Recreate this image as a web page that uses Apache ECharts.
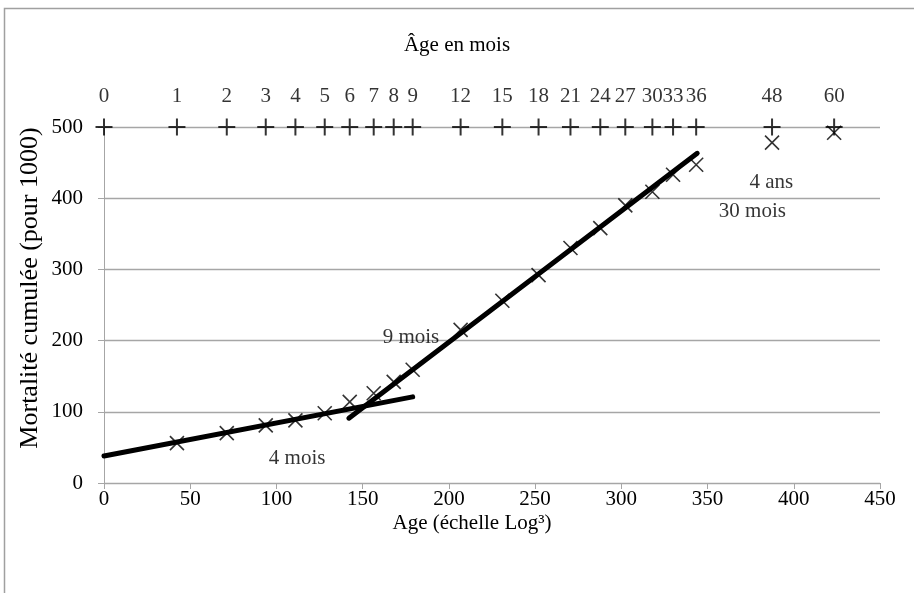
<!DOCTYPE html>
<html>
<head>
<meta charset="utf-8">
<script src="https://cdn.jsdelivr.net/npm/echarts@6/dist/echarts.min.js"></script>
<style>
html, body { margin: 0; padding: 0; background: #fff; }
#chart { width: 914px; height: 593px; }
</style>
</head>
<body>
<div id="chart"></div>
<script>
// --- data ---
// age in months and its position on the log^3 axis
const months = [0, 1, 2, 3, 4, 5, 6, 7, 8, 9, 12, 15, 18, 21, 24, 27, 30, 33, 36, 48, 60];
const monthPos = [0, 42.3, 71.2, 93.8, 111, 128, 142.5, 156.4, 168, 179, 206.8, 231, 252, 270.5, 287.8, 302.3, 318, 330, 343.4, 387.4, 423.4];
const topRow = 500; // the month markers sit on the 500 line

// cumulated mortality (per 1000) for months 1..60
const mortality = [56, 70, 81, 88, 98, 114, 126, 142, 159, 215, 256, 292, 330, 358, 390, 409, 433, 447, 478, 492];

// the two fitted lines
const trendLow = [[0, 38], [179, 121]];
const trendHigh = [[142, 91], [344, 463]];

// text notes in the plot
const notes = [
  ['4 mois', 112, 35],
  ['9 mois', 178, 204],
  ['4 ans', 387, 422],
  ['30 mois', 376, 382]
];

const FONT = 'Liberation Serif';
const GRID_COLOR = '#a6a6a6';
const PLUS = 'path://M0,5L10,5M5,0L5,10';
const CROSS = 'path://M0,0L10,10M10,0L0,10';

const chart = echarts.init(document.getElementById('chart'));

const option = {
  animation: false,
  backgroundColor: '#fff',
  textStyle: { fontFamily: FONT, color: '#000' },
  grid: { left: 104, right: 34, top: 127, bottom: 110 },
  xAxis: {
    type: 'value',
    min: 0, max: 450, interval: 50,
    axisLine: { lineStyle: { color: GRID_COLOR } },
    axisTick: { show: true, length: 6, lineStyle: { color: GRID_COLOR } },
    splitLine: { show: false },
    axisLabel: { color: '#000', fontFamily: FONT, fontSize: 21, margin: 6 }
  },
  yAxis: {
    type: 'value',
    min: 0, max: 500, interval: 100,
    axisLine: { show: true, lineStyle: { color: GRID_COLOR } },
    axisTick: { show: true, length: 6, lineStyle: { color: GRID_COLOR } },
    splitLine: { show: true, lineStyle: { color: GRID_COLOR, width: 1.3 } },
    axisLabel: { color: '#000', fontFamily: FONT, fontSize: 21, margin: 21 }
  },
  graphic: [
    {
      type: 'rect', silent: true,
      shape: { x: 4.5, y: 8.5, width: 1000, height: 1000 },
      style: { fill: 'none', stroke: '#a0a0a0', lineWidth: 1.5 }
    },
    {
      type: 'text', x: 457, y: 45,
      style: { text: 'Âge en mois', font: '21px "Liberation Serif"', fill: '#000', align: 'center', verticalAlign: 'middle' }
    },
    {
      type: 'text', x: 472, y: 523,
      style: { text: 'Age (échelle Log³)', font: '21px "Liberation Serif"', fill: '#000', align: 'center', verticalAlign: 'middle' }
    },
    {
      type: 'text', x: 30, y: 288, rotation: Math.PI / 2,
      style: { text: 'Mortalité cumulée (pour 1000)', font: '26px "Liberation Serif"', fill: '#000', align: 'center', verticalAlign: 'middle' }
    }
  ],
  series: [
    {
      name: 'Mois',
      type: 'scatter',
      clip: false,
      symbol: PLUS,
      symbolSize: 17,
      itemStyle: { color: 'none', borderColor: '#000', borderWidth: 2 },
      label: {
        show: true,
        position: 'top',
        distance: 9,
        color: '#000',
        fontFamily: FONT,
        fontSize: 21,
        formatter: (p) => p.data[2]
      },
      data: monthPos.map((x, i) => [x, topRow, months[i]]),
      z: 3
    },
    {
      name: 'Mortalité',
      type: 'scatter',
      clip: false,
      symbol: CROSS,
      symbolSize: 14,
      itemStyle: { color: 'none', borderColor: '#000', borderWidth: 1.6 },
      data: mortality.map((v, i) => [monthPos[i + 1], v]),
      z: 3
    },
    {
      name: 'Tendance 1',
      type: 'line',
      showSymbol: false,
      lineStyle: { color: '#000', width: 5, cap: 'round' },
      data: trendLow,
      z: 4
    },
    {
      name: 'Tendance 2',
      type: 'line',
      showSymbol: false,
      lineStyle: { color: '#000', width: 5, cap: 'round' },
      data: trendHigh,
      z: 4
    },
    {
      name: 'Notes',
      type: 'scatter',
      symbolSize: 0,
      silent: true,
      label: {
        show: true,
        position: 'inside',
        color: '#000',
        fontFamily: FONT,
        fontSize: 21,
        formatter: (p) => p.name
      },
      data: notes.map(n => ({ name: n[0], value: [n[1], n[2]] })),
      z: 5
    }
  ]
};

chart.setOption(option);
</script>
</body>
</html>
